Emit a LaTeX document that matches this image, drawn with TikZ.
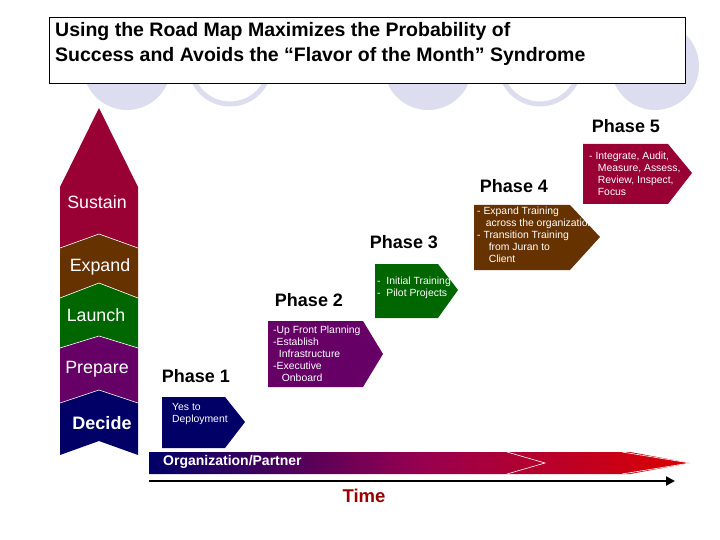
\documentclass[tikz,border=0pt]{standalone}
\usepackage{fontspec}
\setmainfont{Liberation Sans}
\usetikzlibrary{arrows.meta}
\definecolor{cmaroon}{RGB}{153,0,51}
\definecolor{cbrown}{RGB}{102,51,0}
\definecolor{cgreen}{RGB}{0,102,0}
\definecolor{cpurple}{RGB}{102,0,102}
\definecolor{cnavy}{RGB}{0,0,102}
\definecolor{cbg}{RGB}{221,221,240}
\definecolor{ctime}{RGB}{153,0,0}
\definecolor{cred}{RGB}{220,0,0}
\begin{document}
\begin{tikzpicture}[x=1pt,y=-1pt,
  seg/.style={draw=white,line width=0.6pt},
  stacklbl/.style={text=white,font=\fontsize{17.8}{20}\selectfont,inner sep=0pt},
  phaselbl/.style={font=\bfseries\fontsize{18}{20}\selectfont,inner sep=0pt},
  boxtxt/.style={text=white,font=\fontsize{10.4}{12}\selectfont,align=left,inner sep=0pt,anchor=north west}]
\useasboundingbox (0,0) rectangle (720,540);
% background circles
\fill[cbg] (127,66) circle (44);
\fill[cbg] (428,66) circle (44);
\fill[cbg] (655,66) circle (44);
\draw[cbg,line width=5pt] (230,64) circle (40);
\draw[cbg,line width=5pt] (540,64) circle (40);
% title
\node[draw=black,fill=white,line width=0.8pt,minimum width=636pt,minimum height=66pt,anchor=north west,inner sep=0pt] (title) at (49,17) {};
\node[anchor=north west,align=left,font=\bfseries\fontsize{19.5}{25}\selectfont,inner sep=0pt] (titletxt) at (55,22) {Using the Road Map Maximizes the Probability of\\Success and Avoids the “Flavor of the Month” Syndrome};
% left stack
\fill[cmaroon] (60,187) -- (99,108) -- (138,187) -- (138,248) -- (99,234) -- (60,248) -- cycle;
\fill[cbrown] (60,248) -- (99,234) -- (138,248) -- (138,298) -- (99,283) -- (60,298) -- cycle;
\fill[cgreen] (60,298) -- (99,283) -- (138,298) -- (138,348) -- (99,336) -- (60,348) -- cycle;
\fill[cpurple] (60,348) -- (99,336) -- (138,348) -- (138,403) -- (99,390) -- (60,403) -- cycle;
\fill[cnavy] (60,403) -- (99,390) -- (138,403) -- (138,455) -- (99,441) -- (60,455) -- cycle;
\draw[seg] (60,248) -- (99,234) -- (138,248);
\draw[seg] (60,298) -- (99,283) -- (138,298);
\draw[seg] (60,348) -- (99,336) -- (138,348);
\draw[seg] (60,403) -- (99,390) -- (138,403);
\node[stacklbl] (sustain) at (97,202) {Sustain};
\node[stacklbl] (expand) at (100,267) {Expand};
\node[stacklbl] (launch) at (96,315) {Launch};
\node[stacklbl] (prepare) at (97,369) {Prepare};
\node[stacklbl,font=\bfseries\fontsize{18}{20}\selectfont] (decide) at (102,423) {Decide};
% phase boxes
\fill[cnavy] (162,397) -- (225,397) -- (245,422) -- (225,448) -- (162,448) -- cycle;
\node[boxtxt] (p1t) at (172,403) {Yes to\\Deployment};
\fill[cpurple] (268,321) -- (363,321) -- (383,354) -- (363,387) -- (268,387) -- cycle;
\node[boxtxt] (p2t) at (273,326) {-Up Front Planning\\-Establish\\\ \ Infrastructure\\-Executive\\\ \ \ Onboard};
\fill[cgreen] (375,264) -- (438,264) -- (458,290) -- (438,318) -- (375,318) -- cycle;
\node[boxtxt] (p3t) at (377,277) {-\ \ Initial Training\\-\ \ Pilot Projects};
\fill[cbrown] (474,205) -- (570,205) -- (600,237) -- (570,270) -- (474,270) -- cycle;
\node[boxtxt] (p4t) at (477,207) {-\ Expand Training\\\ \ \ across the organization\\-\ Transition Training\\\ \ \ \ from Juran to\\\ \ \ \ Client};
\fill[cmaroon] (583,144) -- (668,144) -- (692,173) -- (668,204) -- (583,204) -- cycle;
\node[boxtxt] (p5t) at (589,152) {-\ Integrate, Audit,\\\ \ \ Measure, Assess,\\\ \ \ Review, Inspect,\\\ \ \ Focus};
% phase labels
\node[phaselbl] (ph1) at (196,376) {Phase 1};
\node[phaselbl] (ph2) at (309,300) {Phase 2};
\node[phaselbl] (ph3) at (404,242) {Phase 3};
\node[phaselbl] (ph4) at (514,186) {Phase 4};
\node[phaselbl] (ph5) at (626,126) {Phase 5};
% bottom bar
\shade[left color=cnavy,right color=cred,middle color={rgb,255:red,150;green,0;blue,80}] (149,452) -- (630,452) -- (690,463) -- (630,474) -- (149,474) -- cycle;
\draw[white,line width=0.6pt] (507,452) -- (545,463) -- (507,474);
\draw[white,line width=0.6pt] (622,452) -- (690,463) -- (622,474);
\node[anchor=west,text=white,font=\bfseries\fontsize{14}{16}\selectfont,inner sep=0pt] (org) at (163,462) {Organization/Partner};
% time arrow
\coordinate (ta) at (149,481);
\coordinate (tb) at (675,481);
\draw[line width=2.5pt,-{Triangle[length=9pt,width=9pt]}] (ta) -- (tb);
\node[text=ctime,font=\bfseries\fontsize{18.5}{20}\selectfont,inner sep=0pt] (time) at (364,496) {Time};
\end{tikzpicture}
\end{document}
